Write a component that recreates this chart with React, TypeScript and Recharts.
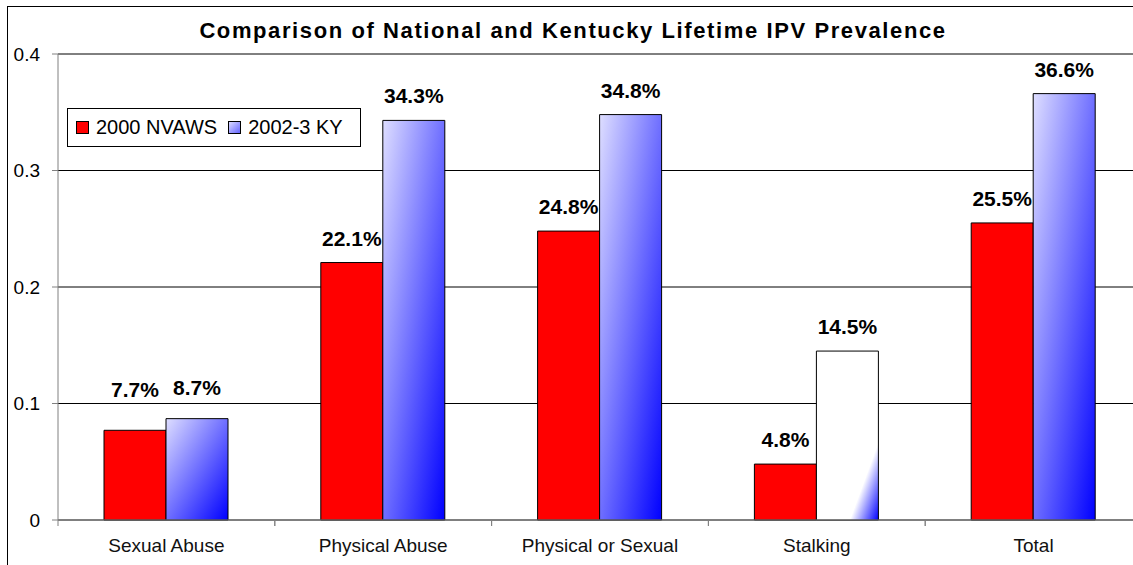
import React from 'react';
import { BarChart, Bar, XAxis, YAxis, CartesianGrid, LabelList, Cell } from 'recharts';

const categories = ['Sexual Abuse', 'Physical Abuse', 'Physical or Sexual', 'Stalking', 'Total'];
const nvaws = [0.077, 0.221, 0.248, 0.048, 0.255];
const ky = [0.087, 0.343, 0.348, 0.145, 0.366];
const yTicks = [0, 0.1, 0.2, 0.3, 0.4];
const seriesNames = ['2000 NVAWS', '2002-3 KY'];
const title = 'Comparison of National and Kentucky Lifetime IPV Prevalence';

const data = categories.map((c, i) => ({ name: c, nvaws: nvaws[i], ky: ky[i] }));

const FONT = '"Liberation Sans", Arial, sans-serif';

const pct = (v: number) => (v * 100).toFixed(1) + '%';

const makeLabel = (series: 'red' | 'blue') => (props: any) => {
  const { x, y, width, value, index } = props;
  let lift = 17;
  if (index === 0) lift += series === 'red' ? 16 : 7;
  return (
    <text
      x={Number(x) + Number(width) / 2}
      y={Number(y) - lift}
      textAnchor="middle"
      fontFamily={FONT}
      fontWeight="bold"
      fontSize={21}
      fill="#000"
    >
      {pct(Number(value))}
    </text>
  );
};

const XTick = (props: any) => {
  const { x, y, payload } = props;
  const off = payload && typeof payload.offset === 'number' && payload.offset > 0 ? payload.offset : 108.4;
  return (
    <g>
      <line x1={x - off} y1={y} x2={x - off} y2={y + 6} stroke="#808080" strokeWidth={1} />
      <line x1={x + off} y1={y} x2={x + off} y2={y + 6} stroke="#808080" strokeWidth={1} />
      <text x={x} y={y + 32} textAnchor="middle" fontFamily={FONT} fontSize={19} fill="#111">
        {payload.value}
      </text>
    </g>
  );
};

const LegendBox = () => (
  <div
    style={{
      position: 'absolute',
      left: 59,
      top: 101,
      width: 294,
      height: 39,
      boxSizing: 'border-box',
      border: '1px solid #000',
      background: '#fff',
      display: 'flex',
      alignItems: 'center',
      fontFamily: FONT,
      fontSize: 20,
      color: '#000',
      paddingLeft: 8,
      zIndex: 2,
    }}
  >
    <svg width={14} height={14} style={{ marginRight: 6 }}>
      <rect x={0.5} y={0.5} width={12} height={12} fill="#ff0000" stroke="#000" />
    </svg>
    <span style={{ marginRight: 11 }}>{seriesNames[0]}</span>
    <svg width={14} height={14} style={{ marginRight: 6 }}>
      <defs>
        <linearGradient id="legGrad" x1="0" y1="0" x2="1" y2="1">
          <stop offset="0%" stopColor="#e0e0ff" />
          <stop offset="100%" stopColor="#6060ff" />
        </linearGradient>
      </defs>
      <rect x={0.5} y={0.5} width={12} height={12} fill="url(#legGrad)" stroke="#000" />
    </svg>
    <span>{seriesNames[1]}</span>
  </div>
);

export default function App() {
  return (
    <div style={{ position: 'absolute', left: 0, top: 0, width: 1133, height: 565, overflow: 'hidden', background: '#fff' }}>
      <div
        style={{
          position: 'absolute',
          left: 7,
          top: 6,
          width: 1170,
          height: 600,
          border: '1px solid #000',
          boxSizing: 'border-box',
        }}
      >
        <div
          style={{
            position: 'absolute',
            left: 0,
            top: 11,
            width: 1130,
            textAlign: 'center',
            fontFamily: FONT,
            fontWeight: 'bold',
            fontSize: 22,
            letterSpacing: 1.6,
            color: '#000',
            whiteSpace: 'nowrap',
            zIndex: 2,
          }}
        >
          {title}
        </div>
        <BarChart
          width={1144}
          height={570}
          data={data}
          margin={{ top: 47, right: 10, left: 0, bottom: 0 }}
          barSize={62}
          barGap={0}
        >
          <defs>
            <linearGradient id="kyGrad" x1="0" y1="0" x2="1" y2="1">
              <stop offset="0%" stopColor="#dedeff" />
              <stop offset="100%" stopColor="#0000ff" />
            </linearGradient>
            <linearGradient id="kyGradWhite" x1="0" y1="0" x2="1" y2="1">
              <stop offset="0%" stopColor="#ffffff" />
              <stop offset="77%" stopColor="#ffffff" />
              <stop offset="100%" stopColor="#0000ff" />
            </linearGradient>
          </defs>
          <CartesianGrid vertical={false} stroke="#000" strokeWidth={1} />
          <XAxis
            dataKey="name"
            height={57}
            stroke="#808080"
            tickLine={false}
            tickSize={0}
            tickMargin={0}
            tick={<XTick />}
            interval={0}
          />
          <YAxis
            width={50}
            domain={[0, 0.4]}
            ticks={yTicks}
            stroke="#808080"
            tickSize={6}
            tickMargin={12}
            tick={{ fontFamily: FONT, fontSize: 19, fill: '#000' }}
            interval={0}
          />
          <Bar dataKey="nvaws" name={seriesNames[0]} fill="#ff0000" stroke="#000" strokeWidth={1} isAnimationActive={false}>
            <LabelList dataKey="nvaws" content={makeLabel('red')} />
          </Bar>
          <Bar dataKey="ky" name={seriesNames[1]} fill="url(#kyGrad)" stroke="#000" strokeWidth={1} isAnimationActive={false}>
            {data.map((d) => (
              <Cell key={d.name} fill={d.name === 'Stalking' ? 'url(#kyGradWhite)' : 'url(#kyGrad)'} />
            ))}
            <LabelList dataKey="ky" content={makeLabel('blue')} />
          </Bar>
        </BarChart>
        <LegendBox />
      </div>
    </div>
  );
}
